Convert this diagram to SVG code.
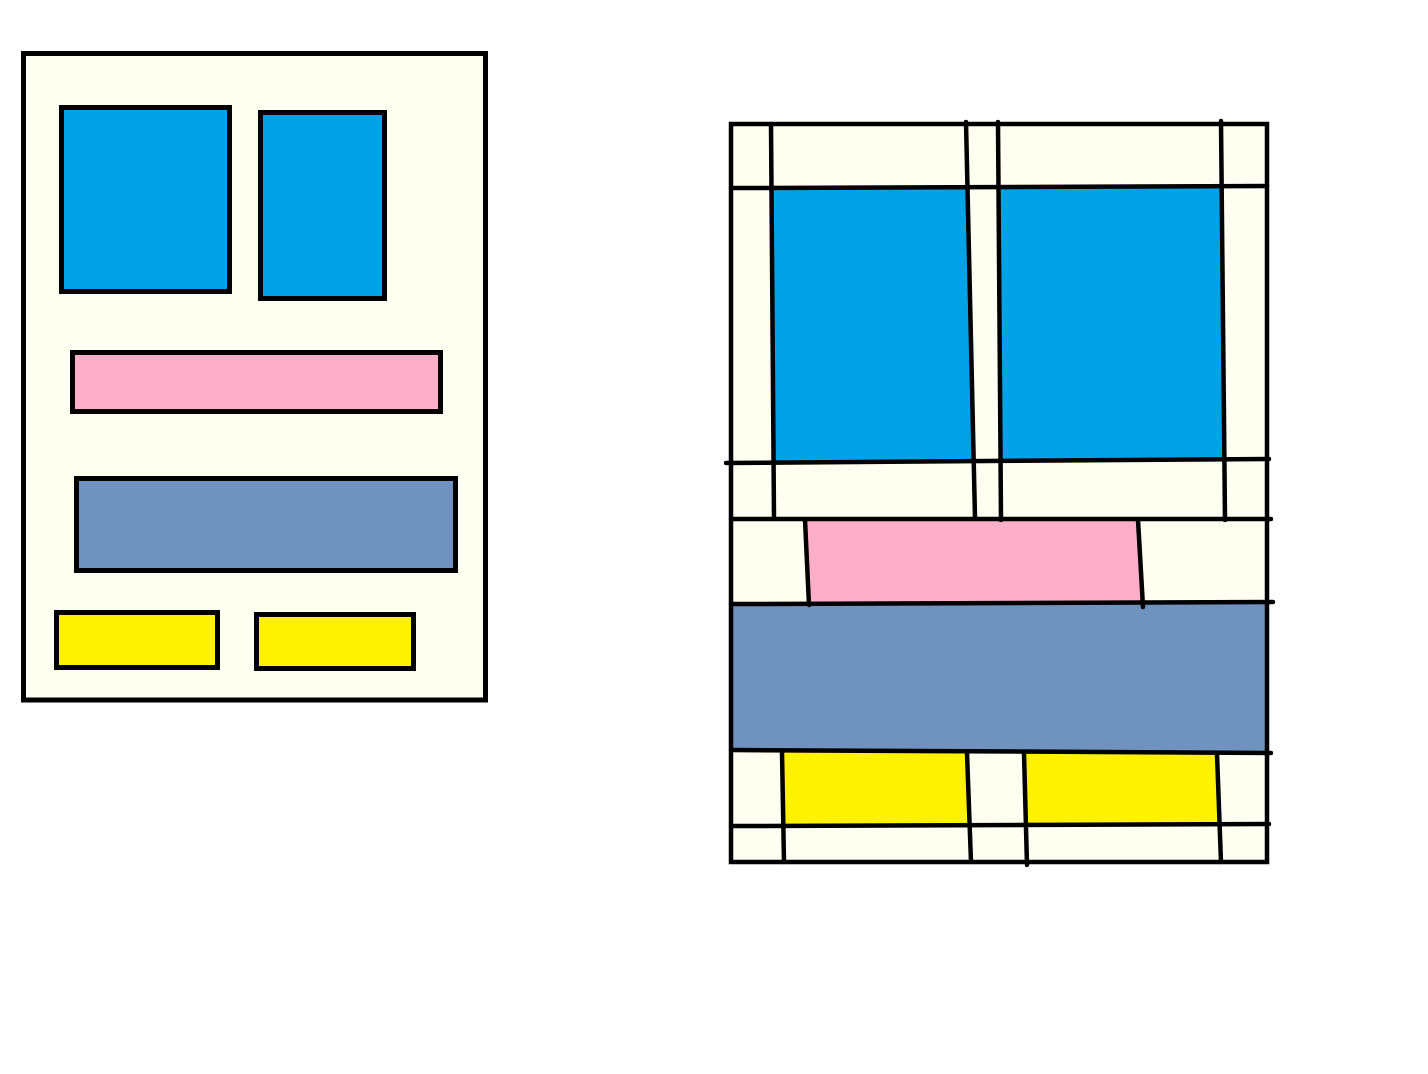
<svg xmlns="http://www.w3.org/2000/svg" width="1428" height="1074" viewBox="0 0 1428 1074">
<style>
.s{stroke:#000;stroke-width:5;}
.l{stroke:#000;stroke-width:4.5;fill:none;stroke-linecap:round;}
.cream{fill:#FEFFF0;}
.blue{fill:#00A2E6;}
.pink{fill:#FFAEC9;}
.gray{fill:#7092BE;}
.yel{fill:#FFF200;}
</style>
<rect width="1428" height="1074" fill="#FFFFFF"/>
<g id="left-sketch">
  <rect id="page" class="s cream" x="23.5" y="53.5" width="462" height="646.5"/>
  <rect id="blue-1" class="s blue" x="61.5" y="107.5" width="168" height="184"/>
  <rect id="blue-2" class="s blue" x="260.5" y="112.5" width="124" height="186"/>
  <rect id="pink" class="s pink" x="72.5" y="352.5" width="368" height="59"/>
  <rect id="gray" class="s gray" x="76.5" y="478.5" width="379" height="92"/>
  <rect id="yellow-1" class="s yel" x="56.5" y="612.5" width="161" height="55"/>
  <rect id="yellow-2" class="s yel" x="256.5" y="614.5" width="157" height="54"/>
</g>
<g id="right-sketch">
  <rect class="cream" x="731" y="124" width="536" height="738"/>
  <polygon class="blue" points="772,188 968,187 974,461 775,462"/>
  <polygon class="blue" points="1000,187 1222,186 1224,459 1001,460"/>
  <polygon class="pink" points="806,519 1138,519 1142,603 809,604"/>
  <polygon class="gray" points="731,603 1267,602 1267,752 731,750"/>
  <polygon class="yel" points="783,751 968,753 970,825 784,826"/>
  <polygon class="yel" points="1025,753 1218,754 1219,824 1026,825"/>
  <g id="grid-lines">
    <rect class="l" x="731" y="124" width="536" height="738"/>
    <line class="l" x1="731" y1="188" x2="1267" y2="186"/>
    <line class="l" x1="726" y1="463" x2="1269" y2="459"/>
    <line class="l" x1="731" y1="519" x2="1271" y2="519"/>
    <line class="l" x1="731" y1="604" x2="1273" y2="602"/>
    <line class="l" x1="731" y1="750" x2="1271" y2="753"/>
    <line class="l" x1="731" y1="826" x2="1269" y2="824"/>
    <line class="l" x1="771" y1="124" x2="774" y2="518"/>
    <line class="l" x1="966" y1="122" x2="975" y2="518"/>
    <line class="l" x1="998" y1="122" x2="1001" y2="520"/>
    <line class="l" x1="1221" y1="121" x2="1225" y2="520"/>
    <line class="l" x1="805" y1="520" x2="809" y2="605"/>
    <line class="l" x1="1138" y1="520" x2="1143" y2="607"/>
    <line class="l" x1="782" y1="752" x2="784" y2="862"/>
    <line class="l" x1="967" y1="753" x2="971" y2="862"/>
    <line class="l" x1="1024" y1="753" x2="1027" y2="865"/>
    <line class="l" x1="1217" y1="754" x2="1221" y2="862"/>
  </g>
</g>
</svg>
